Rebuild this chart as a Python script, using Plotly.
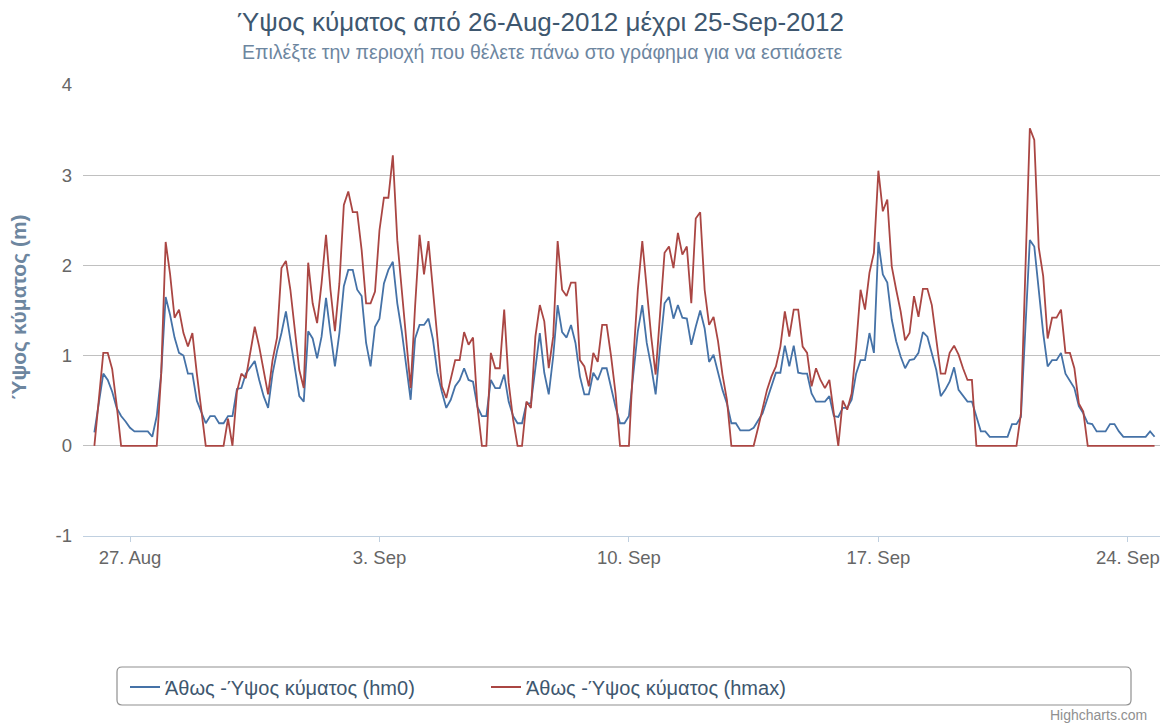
import pandas as pd
import plotly.graph_objects as go

# ---- data (3-hourly, starting 26 Aug 2012 00:00) ----
start_time = "2012-08-26 00:00"
hm0 = [
    0.15, 0.5, 0.8, 0.73, 0.6, 0.42, 0.33, 0.27,
    0.2, 0.16, 0.16, 0.16, 0.16, 0.1, 0.33, 0.8,
    1.65, 1.45, 1.2, 1.03, 1.0, 0.8, 0.8, 0.5,
    0.38, 0.25, 0.33, 0.33, 0.25, 0.25, 0.33, 0.33,
    0.63, 0.64, 0.8, 0.87, 0.94, 0.73, 0.55, 0.42,
    0.8, 1.05, 1.25, 1.49, 1.18, 0.84, 0.55, 0.49,
    1.27, 1.19, 0.97, 1.21, 1.64, 1.25, 0.88, 1.25,
    1.77, 1.95, 1.95, 1.73, 1.66, 1.14, 0.88, 1.32,
    1.41, 1.8, 1.95, 2.04, 1.58, 1.27, 0.88, 0.51,
    1.19, 1.34, 1.34, 1.41, 1.18, 0.81, 0.6, 0.42,
    0.51, 0.66, 0.73, 0.86, 0.73, 0.71, 0.43, 0.33,
    0.33, 0.73, 0.64, 0.64, 0.79, 0.49, 0.33, 0.25,
    0.25, 0.47, 0.47, 0.88, 1.25, 0.81, 0.57, 0.99,
    1.56, 1.26, 1.2, 1.34, 1.14, 0.77, 0.57, 0.57,
    0.81, 0.73, 0.86, 0.86, 0.64, 0.43, 0.25, 0.25,
    0.33, 0.84, 1.27, 1.56, 1.14, 0.88, 0.57, 1.1,
    1.58, 1.65, 1.41, 1.56, 1.42, 1.41, 1.12, 1.32,
    1.5, 1.3, 0.93, 1.01, 0.82, 0.62, 0.47, 0.25,
    0.25, 0.17, 0.17, 0.17, 0.2, 0.28, 0.36, 0.51,
    0.66, 0.81, 0.81, 1.11, 0.88, 1.11, 0.81, 0.8,
    0.8, 0.58, 0.49, 0.49, 0.49, 0.55, 0.33, 0.32,
    0.42, 0.42, 0.51, 0.8, 0.95, 0.95, 1.25, 1.03,
    2.26, 1.9, 1.81, 1.4, 1.16, 0.99, 0.86, 0.95,
    0.96, 1.03, 1.26, 1.21, 1.03, 0.84, 0.55, 0.62,
    0.71, 0.87, 0.62, 0.55, 0.49, 0.49, 0.32, 0.16,
    0.16, 0.1, 0.1, 0.1, 0.1, 0.1, 0.24, 0.24,
    0.32, 1.3, 2.28, 2.21, 1.73, 1.25, 0.88, 0.95,
    0.95, 1.03, 0.8, 0.72, 0.64, 0.44, 0.36, 0.25,
    0.24, 0.16, 0.16, 0.16, 0.24, 0.24, 0.16, 0.1,
    0.1, 0.1, 0.1, 0.1, 0.1, 0.16, 0.1,
]
hmax = [
    0.0, 0.55, 1.03, 1.03, 0.85, 0.45, 0.0, 0.0,
    0.0, 0.0, 0.0, 0.0, 0.0, 0.0, 0.0, 0.8,
    2.26, 1.9, 1.42, 1.51, 1.25, 1.1, 1.25, 0.8,
    0.4, 0.0, 0.0, 0.0, 0.0, 0.0, 0.3, 0.0,
    0.6, 0.8, 0.75, 1.05, 1.32, 1.1, 0.85, 0.57,
    0.95, 1.2, 1.97, 2.05, 1.73, 1.29, 0.84, 0.64,
    2.03, 1.58, 1.36, 1.8, 2.34, 1.73, 1.27, 1.8,
    2.67, 2.82, 2.59, 2.59, 2.17, 1.58, 1.58, 1.71,
    2.39, 2.75, 2.75, 3.22, 2.28, 1.73, 1.21, 0.64,
    1.55, 2.34, 1.9, 2.27, 1.73, 1.21, 0.66, 0.53,
    0.75, 0.95, 0.95, 1.26, 1.12, 1.2, 0.43, 0.0,
    0.0, 1.03, 0.86, 0.86, 1.51, 0.7, 0.29, 0.0,
    0.0, 0.49, 0.42, 1.21, 1.56, 1.38, 0.86, 1.21,
    2.27, 1.73, 1.66, 1.81, 1.81, 0.95, 0.88, 0.66,
    1.03, 0.93, 1.34, 1.34, 0.99, 0.58, 0.0, 0.0,
    0.0, 0.97, 1.73, 2.27, 1.73, 1.21, 0.79, 1.47,
    2.14, 2.21, 1.97, 2.36, 2.12, 2.21, 1.58, 2.52,
    2.59, 1.73, 1.34, 1.43, 1.16, 0.79, 0.51, 0.0,
    0.0, 0.0, 0.0, 0.0, 0.0, 0.2, 0.4, 0.62,
    0.77, 0.88, 1.1, 1.49, 1.21, 1.51, 1.51, 1.1,
    1.03, 0.66, 0.86, 0.73, 0.64, 0.73, 0.36, 0.0,
    0.5, 0.4, 0.58, 1.1, 1.73, 1.51, 1.92, 2.14,
    3.05, 2.6, 2.73, 1.99, 1.73, 1.49, 1.17, 1.25,
    1.66, 1.43, 1.74, 1.74, 1.56, 1.21, 0.8, 0.8,
    1.03, 1.11, 1.01, 0.86, 0.73, 0.73, 0.0, 0.0,
    0.0, 0.0, 0.0, 0.0, 0.0, 0.0, 0.0, 0.0,
    0.36, 1.95, 3.52, 3.39, 2.2, 1.88, 1.19, 1.42,
    1.42, 1.51, 1.03, 1.03, 0.86, 0.47, 0.38, 0.0,
    0.0, 0.0, 0.0, 0.0, 0.0, 0.0, 0.0, 0.0,
    0.0, 0.0, 0.0, 0.0, 0.0, 0.0, 0.0,
]
series_names = ["Άθως -Ύψος κύματος (hm0)", "Άθως -Ύψος κύματος (hmax)"]
series_colors = ["#4572A7", "#AA4643"]
tick_dates = ["2012-08-27", "2012-09-03", "2012-09-10", "2012-09-17", "2012-09-24"]
tick_labels = ["27. Aug", "3. Sep", "10. Sep", "17. Sep", "24. Sep"]
y_ticks = [-1, 0, 1, 2, 3, 4]
y_tick_labels = ["-1", "0", "1", "2", "3", "4"]
x_range = ["2012-08-25 16:20", "2012-09-24 21:40"]

title_text = "Ύψος κύματος από 26-Aug-2012 μέχρι 25-Sep-2012"
subtitle_text = "Επιλέξτε την περιοχή που θέλετε πάνω στο γράφημα για να εστιάσετε"
ytitle_text = "Ύψος κύματος (m)"

times = pd.date_range(start_time, periods=len(hm0), freq="3h")

FONT = "Liberation Sans, Arial, sans-serif"
W, H = 1161, 723
L, R, T, B = 83, 1, 85, 187
PW, PH = W - L - R, H - T - B


def px_x(px):
    return (px - L) / PW


def px_y(py):
    return (H - B - py) / PH


fig = go.Figure()
for vals, name, col in zip([hm0, hmax], series_names, series_colors):
    fig.add_trace(go.Scatter(x=times, y=vals, mode="lines", name=name,
                             line=dict(color=col, width=1.8)))

# legend rounded box
x0, x1 = px_x(117), px_x(1131)
y0, y1 = px_y(705), px_y(667)
rx, ry = 5 / PW, 5 / PH
path = (f"M {x0+rx},{y1} L {x1-rx},{y1} Q {x1},{y1} {x1},{y1-ry} "
        f"L {x1},{y0+ry} Q {x1},{y0} {x1-rx},{y0} L {x0+rx},{y0} "
        f"Q {x0},{y0} {x0},{y0+ry} L {x0},{y1-ry} Q {x0},{y1} {x0+rx},{y1} Z")

fig.update_layout(
    width=W, height=H,
    margin=dict(l=L, r=R, t=T, b=B, autoexpand=False),
    paper_bgcolor="white", plot_bgcolor="white",
    font=dict(family=FONT, color="#666666", size=18),
    showlegend=True,
    legend=dict(orientation="h", x=px_x(125), xanchor="left",
                y=px_y(687), yanchor="middle",
                font=dict(size=20, color="#3E576F", family=FONT),
                bgcolor="rgba(0,0,0,0)", borderwidth=0,
                entrywidth=316, entrywidthmode="pixels", traceorder="normal"),
    shapes=[dict(type="path", xref="paper", yref="paper", path=path,
                 line=dict(color="#909090", width=1.2), fillcolor="rgba(0,0,0,0)")],
    annotations=[
        dict(text=title_text, xref="paper", yref="paper", x=px_x(540), y=px_y(22),
             xanchor="center", yanchor="middle", showarrow=False,
             font=dict(size=26, color="#3E576F", family=FONT)),
        dict(text=subtitle_text, xref="paper", yref="paper", x=px_x(542), y=px_y(52),
             xanchor="center", yanchor="middle", showarrow=False,
             font=dict(size=19.5, color="#6D869F", family=FONT)),
        dict(text="<b>" + ytitle_text + "</b>", xref="paper", yref="paper",
             x=px_x(19), y=px_y(307), xanchor="center", yanchor="middle",
             textangle=-90, showarrow=False,
             font=dict(size=21, color="#6D869F", family=FONT)),
        dict(text="Highcharts.com", xref="paper", yref="paper", x=px_x(1149), y=px_y(715),
             xanchor="right", yanchor="middle", showarrow=False,
             font=dict(size=14, color="#909090", family=FONT)),
    ],
)
fig.update_xaxes(type="date", range=x_range, tickvals=tick_dates, ticktext=tick_labels,
                 showgrid=False, zeroline=False, showline=True, linecolor="#C0D0E0",
                 linewidth=1, ticks="outside", tickcolor="#C0D0E0", ticklen=5,
                 tickfont=dict(size=18.5, color="#666666"))
fig.update_yaxes(range=[-1, 4], tickvals=y_ticks, ticktext=y_tick_labels,
                 showgrid=True, gridcolor="#C0C0C0",
                 gridwidth=1, zeroline=False, showline=False, ticks="",
                 ticklabelstandoff=10, tickfont=dict(size=18.5, color="#666666"))

fig.write_html("out.html", config={"displayModeBar": False},
               post_script="document.body.style.margin='0';document.body.style.overflow='hidden';")
